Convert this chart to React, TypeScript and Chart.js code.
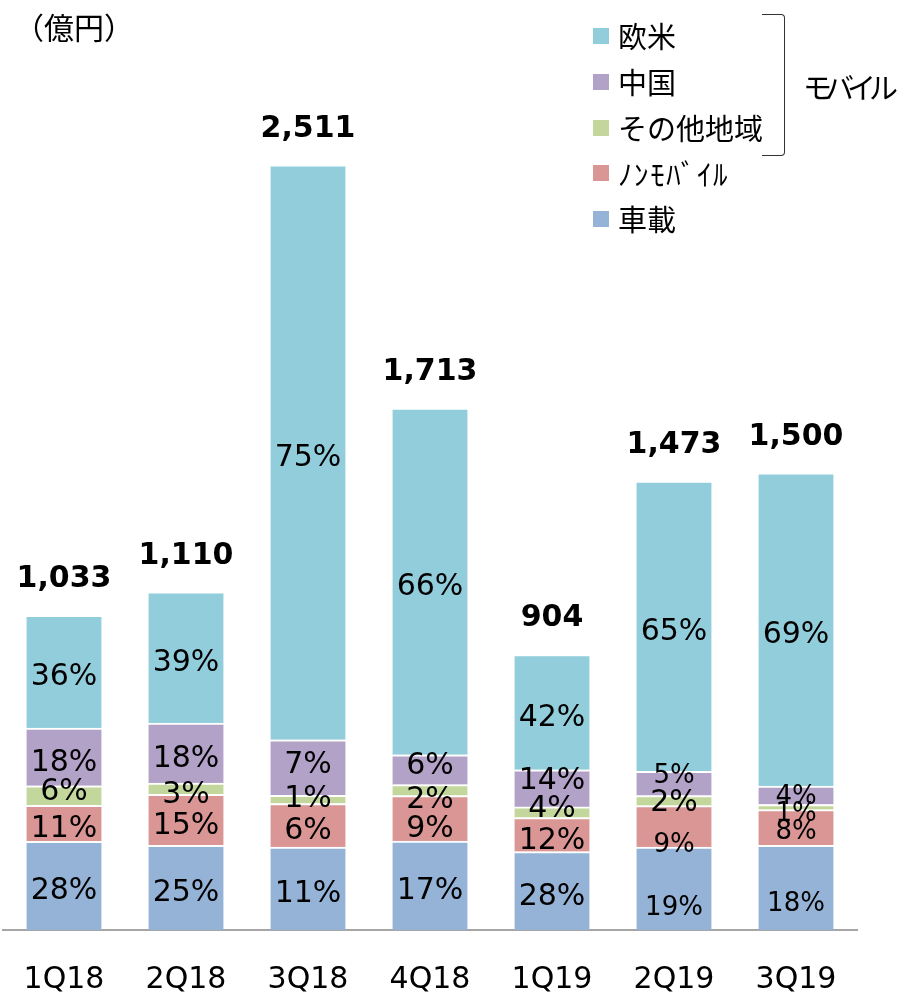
import React, { useEffect, useRef } from "react";
import { Chart, registerables } from "chart.js";

Chart.register(...registerables);

// ---- Data (億円) ----
const categories = ["1Q18", "2Q18", "3Q18", "4Q18", "1Q19", "2Q19", "3Q19"];
const totals = [1033, 1110, 2511, 1713, 904, 1473, 1500];

const seriesNames = ["車載", "ﾉﾝﾓﾊﾞｲﾙ", "その他地域", "中国", "欧米"];

const automotive = [291, 278, 272, 292, 257, 272, 278];
const nonMobile = [118, 167, 143, 149, 112, 136, 117];
const otherRegions = [64, 37, 27, 36, 35, 33, 17];
const china = [190, 197, 182, 98, 122, 80, 60];
const westEurope = [370, 431, 1887, 1138, 378, 952, 1028];

// percentage labels shown on each segment
const pctAutomotive = [28, 25, 11, 17, 28, 19, 18];
const pctNonMobile = [11, 15, 6, 9, 12, 9, 8];
const pctOtherRegions = [6, 3, 1, 2, 4, 2, 1];
const pctChina = [18, 18, 7, 6, 14, 5, 4];
const pctWestEurope = [36, 39, 75, 66, 42, 65, 69];

// ---- Styling ----
const colors = ["#95B3D7", "#D99694", "#C3D69B", "#B3A2C7", "#92CDDC"];
// label vertical nudges (px) to mimic the original's overlap avoidance
const labelNudge = [
  [0, 0, 0, 0, 0, 14, 11],
  [0, 0, 0, 5, 1, 13, -1],
  [-9, 0, -6, 4, -9, -3, 1],
  [0, 0, -8, -10, -13, -13, -4],
  [0, 0, 0, 0, 0, 0, 0],
];
const smallLabel = [
  [0, 0, 0, 0, 0, 1, 1],
  [0, 0, 0, 0, 0, 1, 1],
  [0, 0, 0, 0, 0, 0, 1],
  [0, 0, 0, 0, 0, 1, 1],
  [0, 0, 0, 0, 0, 0, 0],
];

const seriesValues = [automotive, nonMobile, otherRegions, china, westEurope];
const seriesPcts = [pctAutomotive, pctNonMobile, pctOtherRegions, pctChina, pctWestEurope];

const latin = '"DejaVu Sans", Verdana, sans-serif';
const cjk = '"Noto Sans CJK JP", "Noto Sans CJK SC", sans-serif';

const segLabelPlugin = {
  id: "segLabels",
  afterDatasetsDraw(chart: any) {
    const ctx = chart.ctx;
    ctx.save();
    ctx.textAlign = "center";
    ctx.textBaseline = "middle";
    ctx.fillStyle = "#000";
    chart.data.datasets.forEach((_ds: any, di: number) => {
      const meta = chart.getDatasetMeta(di);
      meta.data.forEach((el: any, i: number) => {
        const p = el.getProps(["x", "y", "base"], true);
        const size = smallLabel[di][i] ? 26 : 30;
        ctx.font = `${size}px ${latin}`;
        const cy = (p.y + p.base) / 2 + 6 + labelNudge[di][i];
        ctx.fillText(seriesPcts[di][i] + "%", p.x, cy);
      });
    });
    const topMeta = chart.getDatasetMeta(chart.data.datasets.length - 1);
    ctx.font = `bold 30px ${latin}`;
    topMeta.data.forEach((el: any, i: number) => {
      const p = el.getProps(["x", "y"], true);
      ctx.fillText(totals[i].toLocaleString("en-US"), p.x, p.y + 2 - 38);
    });
    ctx.restore();
  },
};

export default function App() {
  const canvasRef = useRef<HTMLCanvasElement | null>(null);

  useEffect(() => {
    if (!canvasRef.current) return;
    const chart = new Chart(canvasRef.current, {
      type: "bar",
      data: {
        labels: categories,
        datasets: seriesValues.map((vals, i) => ({
          label: seriesNames[i],
          data: vals,
          backgroundColor: colors[i],
          borderColor: "#ffffff",
          borderWidth: { top: 2, right: 0, bottom: 0, left: 0 },
          borderSkipped: false,
          barThickness: 75,
        })),
      },
      options: {
        responsive: false,
        animation: false,
        devicePixelRatio: 1,
        layout: { padding: { left: 3, right: 42, top: 0, bottom: 0 } },
        plugins: {
          legend: { display: false },
          tooltip: { enabled: false },
        },
        scales: {
          x: {
            stacked: true,
            grid: { display: false, drawTicks: false },
            border: { display: true, color: "#a6a6a6", width: 2 },
            ticks: {
              color: "#000",
              font: { family: latin, size: 30, lineHeight: 2 },
              padding: 20,
              maxRotation: 0,
              autoSkip: false,
            },
            afterFit: (scale: any) => {
              scale.height = 62;
            },
          },
          y: {
            stacked: true,
            display: false,
            min: 0,
            max: 3052,
          },
        },
      },
      plugins: [segLabelPlugin],
    });
    return () => chart.destroy();
  }, []);

  const legendCenters = [37, 82.75, 128.5, 174.25, 220];
  const legendOrder = [4, 3, 2, 1, 0];

  return (
    <div style={{ position: "absolute", left: 0, top: 0, width: 899, height: 992, background: "#fff", overflow: "hidden" }}>
      <canvas ref={canvasRef} width={899} height={992} style={{ display: "block", width: 899, height: 992 }} />
      <div
        style={{
          position: "absolute",
          left: 14,
          top: 27 - 21.5,
          height: 40,
          fontFamily: cjk,
          fontSize: 30,
          lineHeight: "40px",
          color: "#000",
          whiteSpace: "nowrap",
        }}
      >
        （億円）
      </div>
      {legendOrder.map((si, row) => (
        <div key={si}>
          <div
            style={{
              position: "absolute",
              left: 593,
              top: legendCenters[row] - 9,
              width: 16,
              height: 16,
              background: colors[si],
            }}
          />
          <div
            style={{
              position: "absolute",
              left: 618,
              top: legendCenters[row] - 21.6,
              height: 40,
              lineHeight: "40px",
              fontFamily: cjk,
              fontSize: 29,
              letterSpacing: si === 1 ? "1.6px" : "0px",
              color: "#000",
              whiteSpace: "nowrap",
            }}
          >
            {seriesNames[si]}
          </div>
        </div>
      ))}
      <div
        style={{
          position: "absolute",
          left: 762,
          top: 14,
          width: 22,
          height: 140,
          borderTop: "1.5px solid #333",
          borderRight: "1.5px solid #333",
          borderBottom: "1.5px solid #333",
          borderRadius: "0 4px 4px 0",
        }}
      />
      <div
        style={{
          position: "absolute",
          left: 803,
          top: 87.5 - 21.6,
          height: 40,
          lineHeight: "40px",
          fontFamily: cjk,
          fontSize: 29,
          letterSpacing: "-7px",
          color: "#000",
          whiteSpace: "nowrap",
        }}
      >
        モバイル
      </div>
    </div>
  );
}
